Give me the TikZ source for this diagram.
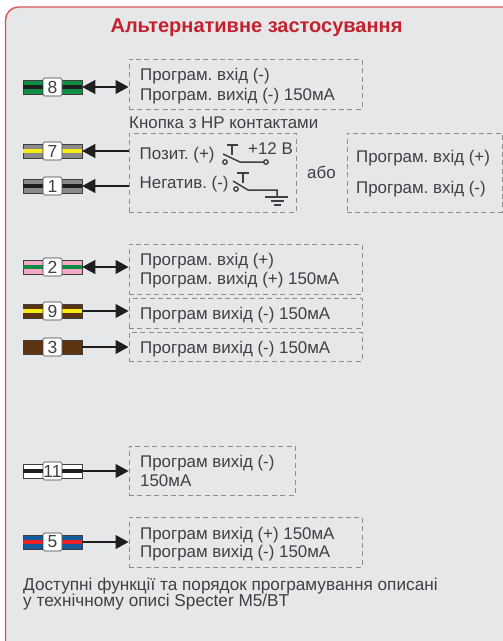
\documentclass[tikz,border=0pt]{standalone}
\usepackage{fontspec}
\setmainfont{Liberation Sans}
\usetikzlibrary{arrows.meta}
\definecolor{panel}{HTML}{E6E7E9}
\definecolor{panelred}{HTML}{D8545C}
\definecolor{titlered}{HTML}{C4212F}
\definecolor{ink}{HTML}{3F4043}
\definecolor{dashgrey}{HTML}{8C8D8F}
\definecolor{wgreen}{HTML}{0F8F45}
\definecolor{wgrey}{HTML}{8A8A8A}
\definecolor{wdark}{HTML}{1E1E1E}
\definecolor{wyellow}{HTML}{F7EC13}
\definecolor{wpink}{HTML}{F2A9C4}
\definecolor{wbrown}{HTML}{5E3310}
\definecolor{wblue}{HTML}{115A9C}
\definecolor{wred}{HTML}{EE2024}
\tikzset{
  x=1pt,y=-1pt,
  dbox/.style={draw=dashgrey,line width=1pt,dash pattern=on 5pt off 3.4pt},
  lbl/.style={anchor=base west,inner sep=0pt,text=ink,font=\fontsize{16.9}{18}\selectfont},
  note/.style={lbl,font=\fontsize{17.2}{18}\selectfont},
  wirebar/.style={draw=wdark!70!wgrey,line width=.6pt,minimum width=59pt,minimum height=14pt,inner sep=0pt},
  stripe/.style={minimum width=59pt,minimum height=4.5pt,inner sep=0pt},
  tag/.style={draw=wdark!70!wgrey,fill=white,line width=.6pt,rounded corners=1.5pt,minimum width=19pt,minimum height=18pt,inner sep=0pt,text=ink,font=\fontsize{17.5}{18}\selectfont},
  conn/.style={draw=wdark,line width=1.1pt,{Triangle[length=13pt,width=14pt]}-},
  connr/.style={draw=wdark,line width=1.1pt,-{Triangle[length=13pt,width=14pt]}},
  connb/.style={draw=wdark,line width=1.1pt,{Triangle[length=13pt,width=14pt]}-{Triangle[length=13pt,width=14pt]}},
  sym/.style={draw=ink,line width=1.5pt},
  pin/.style={draw=ink,line width=1.3pt,fill=panel,circle,minimum size=4.5pt,inner sep=0pt},
}
\newcommand{\wirepart}[5]{% name, y, outer, stripe, label
  \node[wirebar,fill=#3] (w#1) at (52.5,#2) {};
  \node[stripe,fill=#4] (s#1) at (52.5,#2) {};
  \node[tag] (t#1) at (52.5,#2) {#5};
}
\begin{document}
\frenchspacing
\begin{tikzpicture}
\useasboundingbox (0,0) rectangle (503,641);
\fill[white] (0,0) rectangle (503,641);
\path[fill=panel,draw=panelred,line width=1.4pt,rounded corners=13pt] (5.5,7) rectangle (516,660);
\fill[white] (503,0) rectangle (520,665);
\node[anchor=center,inner sep=0pt,text=titlered,font=\bfseries\fontsize{20}{22}\selectfont] (title) at (256.5,28) {Альтернативне застосування};

% dashed boxes
\node[dbox,minimum width=233pt,minimum height=50pt,inner sep=0pt] (b8) at (245.5,84) {};
\node[dbox,minimum width=167pt,minimum height=79pt,inner sep=0pt] (b71) at (212.5,172.5) {};
\node[dbox,minimum width=155pt,minimum height=79pt,inner sep=0pt] (balt) at (424.5,172.5) {};
\node[dbox,minimum width=233pt,minimum height=50pt,inner sep=0pt] (b2) at (245.5,269) {};
\node[dbox,minimum width=233pt,minimum height=30pt,inner sep=0pt] (b9) at (245.5,313) {};
\node[dbox,minimum width=233pt,minimum height=29pt,inner sep=0pt] (b3) at (245.5,346.5) {};
\node[dbox,minimum width=166pt,minimum height=49pt,inner sep=0pt] (b11) at (212,470.5) {};
\node[dbox,minimum width=233pt,minimum height=50pt,inner sep=0pt] (b5) at (245.5,542) {};

% wires
\wirepart{8}{87}{wgreen}{wdark}{8}
\wirepart{7}{151}{wgrey}{wyellow}{7}
\wirepart{1}{186}{wgrey}{wdark}{1}
\wirepart{2}{267}{wpink}{wgreen}{2}
\wirepart{9}{311}{wbrown}{wyellow}{9}
\wirepart{3}{347}{wbrown}{wbrown}{3}
\wirepart{11}{471}{white}{wdark}{11}
\wirepart{5}{542}{wblue}{wred}{5}

% connectors
\draw[connb] (w8.east) -- (w8.east -| b8.west);
\draw[conn] (w7.east) -- (w7.east -| b71.west);
\draw[conn] (w1.east) -- (w1.east -| b71.west);
\draw[connb] (w2.east) -- (w2.east -| b2.west);
\draw[connr] (w9.east) -- (w9.east -| b9.west);
\draw[connr] (w3.east) -- (w3.east -| b3.west);
\draw[connr] (w11.east) -- (w11.east -| b11.west);
\draw[connr] (w5.east) -- (w5.east -| b5.west);

% texts
\node[lbl] (a1) at (140,80.5) {Програм. вхід (-)};
\node[lbl] (a2) at (140,100) {Програм. вихід (-) 150мА};
\node[lbl] (a3) at (129,128) {Кнопка з НР контактами};
\node[lbl] (a4) at (139.5,159) {Позит. (+)};
\node[lbl] (a5) at (248,154.5) {+12 В};
\node[lbl] (a6) at (139.5,188) {Негатив. (-)};
\node[lbl] (a7) at (307,178) {або};
\node[lbl] (a8) at (356,162) {Програм. вхід (+)};
\node[lbl] (a9) at (356,193) {Програм. вхід (-)};
\node[lbl] (c1) at (140,265) {Програм. вхід (+)};
\node[lbl] (c2) at (140,284) {Програм. вихід (+) 150мА};
\node[lbl] (c3) at (140,319) {Програм вихід (-) 150мА};
\node[lbl] (c4) at (140,353) {Програм вихід (-) 150мА};
\node[lbl] (d1) at (140,467) {Програм вихід (-)};
\node[lbl] (d2) at (140,486.5) {150мА};
\node[lbl] (e1) at (140,539.5) {Програм вихід (+) 150мА};
\node[lbl] (e2) at (140,557) {Програм вихід (-) 150мА};
\node[note] (f1) at (23,590) {Доступні функції та порядок програмування описані};
\node[note] (f2) at (23,606.5) {у технічному описі Specter M5/BT};

% switch, +12 V
\draw[sym] (223,154) -- (240,162) -- (264,162);
\draw[sym] (232,155) -- (232,145);
\draw[sym] (227,145) -- (237.5,145);
\node[pin] (p1) at (225,162) {};
\node[pin] (p2) at (266,162) {};
% switch, ground
\draw[sym] (233,181) -- (248,190) -- (277,190) -- (277,197);
\draw[sym] (243,183) -- (243,173);
\draw[sym] (237,173) -- (248.5,173);
\draw[sym] (265,197) -- (288,197);
\draw[sym] (270.5,201) -- (283.5,201);
\draw[sym] (273.5,205) -- (280.5,205);
\node[pin] (p3) at (236,189) {};
\end{tikzpicture}
\end{document}
